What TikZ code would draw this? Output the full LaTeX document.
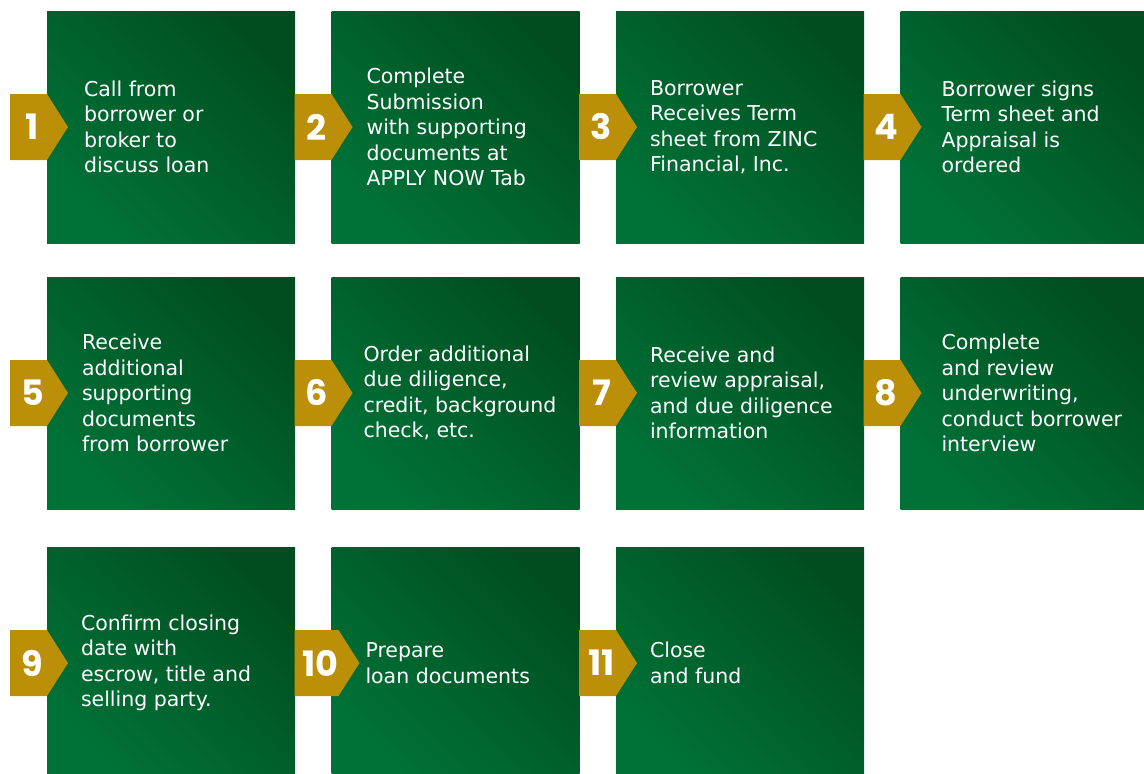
\documentclass[tikz,border=0pt]{standalone}
\usepackage{fontspec}
\setmainfont{DejaVu Sans}
\newfontfamily\cifras{Poppins}
\usetikzlibrary{positioning, shapes.symbols}
\definecolor{verdeosc}{RGB}{0,78,32}
\definecolor{verdeclaro}{RGB}{0,114,55}
\definecolor{oro}{RGB}{187,144,8}

\begin{document}
\begin{tikzpicture}[
		x=1pt, y=-1pt,
		% --- Estilos ---
		paso/.style={
			rectangle,
			minimum width=248pt,
			minimum height=232pt,
			inner sep=0pt,
			top color=verdeosc,
			bottom color=verdeclaro,
			shading angle=-45
		},
		etiqueta/.style={
			signal,
			signal to=east,
			signal pointer angle=115,
			fill=oro,
			minimum width=58pt,
			minimum height=66pt,
			inner sep=0pt,
			anchor=west,
			text=white,
			execute at begin node=\hspace*{8pt},
			font=\cifras\bfseries\fontsize{35}{35}\selectfont
		},
		texto/.style={
			anchor=west,
			align=left,
			inner sep=0pt,
			text=white,
			font=\fontsize{20.5}{25.5}\selectfont
		}
		]
		\clip (0,0) rectangle (1144,774);
		
		% 1. Fila superior
		\node[paso] (p1) at (171,127) {};
		\node[paso] (p2) at (455.5,127) {};
		\node[paso] (p3) at (740,127) {};
		\node[paso] (p4) at (1024.5,127) {};
		
		% 2. Fila central
		\node[paso] (p5) at (171,393) {};
		\node[paso] (p6) at (455.5,393) {};
		\node[paso] (p7) at (740,393) {};
		\node[paso] (p8) at (1024.5,393) {};
		
		% 3. Fila inferior
		\node[paso] (p9) at (171,663) {};
		\node[paso] (p10) at (455.5,663) {};
		\node[paso] (p11) at (740,663) {};
		
		% 4. Etiquetas numeradas, pegadas al borde izquierdo de cada caja
		\node[etiqueta] (e1) at ([xshift=-37pt]p1.west) {1};
		\node[etiqueta] (e2) at ([xshift=-37pt]p2.west) {2};
		\node[etiqueta] (e3) at ([xshift=-37pt]p3.west) {3};
		\node[etiqueta] (e4) at ([xshift=-37pt]p4.west) {4};
		\node[etiqueta] (e5) at ([xshift=-37pt]p5.west) {5};
		\node[etiqueta] (e6) at ([xshift=-37pt]p6.west) {6};
		\node[etiqueta] (e7) at ([xshift=-37pt]p7.west) {7};
		\node[etiqueta] (e8) at ([xshift=-37pt]p8.west) {8};
		\node[etiqueta] (e9) at ([xshift=-37pt]p9.west) {9};
		\node[etiqueta] (e10) at ([xshift=-37pt]p10.west) {10};
		\node[etiqueta] (e11) at ([xshift=-37pt]p11.west) {11};
		
		% 5. Textos de cada paso
		\node[texto] (t1) at ([xshift=37pt]p1.west) {Call from\\borrower or\\broker to\\discuss loan};
		\node[texto] (t2) at ([xshift=35pt]p2.west) {Complete\\Submission\\with supporting\\documents at\\APPLY NOW Tab};
		\node[texto] (t3) at ([xshift=34pt]p3.west) {Borrower\\Receives Term\\sheet from ZINC\\Financial, Inc.};
		\node[texto] (t4) at ([xshift=41pt]p4.west) {Borrower signs\\Term sheet and\\Appraisal is\\ordered};
		\node[texto] (t5) at ([xshift=35pt]p5.west) {Receive\\additional\\supporting\\documents\\from borrower};
		\node[texto] (t6) at ([xshift=32pt]p6.west) {Order additional\\due diligence,\\credit, background\\check, etc.};
		\node[texto] (t7) at ([xshift=34pt]p7.west) {Receive and\\review appraisal,\\and due diligence\\information};
		\node[texto] (t8) at ([xshift=41pt]p8.west) {Complete\\and review\\underwriting,\\conduct borrower\\interview};
		\node[texto] (t9) at ([xshift=34pt]p9.west) {Confirm closing\\date with\\escrow, title and\\selling party.};
		\node[texto] (t10) at ([xshift=34pt]p10.west) {Prepare\\loan documents};
		\node[texto] (t11) at ([xshift=34pt]p11.west) {Close\\and fund};
		
	\end{tikzpicture}
\end{document}
